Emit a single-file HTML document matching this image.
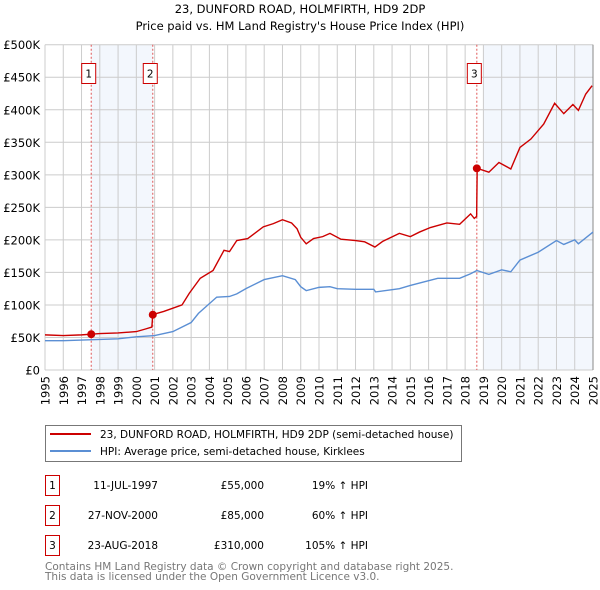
<!DOCTYPE html>
<html><head><meta charset="utf-8"><style>
body{margin:0;background:#fff;}
svg{display:block;font-family:"DejaVu Sans","Liberation Sans",sans-serif;}
</style></head><body>
<svg id="chart" width="600" height="590" viewBox="0 0 600 590">
<text x="300" y="13" text-anchor="middle" font-size="11.5" fill="#000">23, DUNFORD ROAD, HOLMFIRTH, HD9 2DP</text>
<text x="300" y="30" text-anchor="middle" font-size="11.5" fill="#000">Price paid vs. HM Land Registry's House Price Index (HPI)</text>
<g id="plot"></g>
<g>
<rect x="45.5" y="425.5" width="416" height="36" fill="#fff" stroke="#777"/>
<line x1="50" y1="434" x2="91" y2="434" stroke="#cc0000" stroke-width="2"/>
<text x="100" y="438" font-size="10.5">23, DUNFORD ROAD, HOLMFIRTH, HD9 2DP (semi-detached house)</text>
<line x1="50" y1="451" x2="91" y2="451" stroke="#5b8fd4" stroke-width="2"/>
<text x="100" y="455" font-size="10.5">HPI: Average price, semi-detached house, Kirklees</text>
</g>
<g font-size="10.5">
<rect x="45.5" y="475.5" width="14" height="20" fill="#fff" stroke="#cc0000"/>
<text x="52.5" y="489" text-anchor="middle">1</text>
<text x="158" y="489" text-anchor="end">11-JUL-1997</text>
<text x="264" y="489" text-anchor="end">£55,000</text>
<text x="368" y="489" text-anchor="end">19% ↑ HPI</text>
<rect x="45.5" y="505.5" width="14" height="20" fill="#fff" stroke="#cc0000"/>
<text x="52.5" y="519" text-anchor="middle">2</text>
<text x="158" y="519" text-anchor="end">27-NOV-2000</text>
<text x="264" y="519" text-anchor="end">£85,000</text>
<text x="368" y="519" text-anchor="end">60% ↑ HPI</text>
<rect x="45.5" y="535.5" width="14" height="20" fill="#fff" stroke="#cc0000"/>
<text x="52.5" y="549" text-anchor="middle">3</text>
<text x="158" y="549" text-anchor="end">23-AUG-2018</text>
<text x="264" y="549" text-anchor="end">£310,000</text>
<text x="368" y="549" text-anchor="end">105% ↑ HPI</text>
</g>
<text x="45" y="570" font-size="10.5" fill="#777">Contains HM Land Registry data © Crown copyright and database right 2025.</text>
<text x="45" y="580" font-size="10.5" fill="#777">This data is licensed under the Open Government Licence v3.0.</text>
</svg>
<script>
const yTicks=[0,50,100,150,200,250,300,350,400,450,500];
const yTickLabels=["£0","£50K","£100K","£150K","£200K","£250K","£300K","£350K","£400K","£450K","£500K"];
const xYears=[1995,1996,1997,1998,1999,2000,2001,2002,2003,2004,2005,2006,2007,2008,2009,2010,2011,2012,2013,2014,2015,2016,2017,2018,2019,2020,2021,2022,2023,2024,2025];
const saleLabels=["1","2","3"];
const saleDates=[1997.53,2000.9,2018.64];
const salePrices=[55,85,310];
const redT=[1995,1996,1997,1997.53,1998,1999,2000,2000.5,2000.85,2000.9,2001,2001.5,2002,2002.5,2002.9,2003.5,2004.2,2004.8,2005.1,2005.5,2006.1,2006.95,2007.5,2008,2008.5,2008.8,2009,2009.3,2009.7,2010.2,2010.6,2011.2,2012,2012.5,2013.06,2013.5,2014.4,2015,2015.5,2016.1,2017,2017.7,2018.3,2018.5,2018.63,2018.66,2019.3,2019.85,2020.5,2021,2021.6,2022.3,2022.9,2023.4,2023.9,2024.2,2024.6,2024.95];
const redV=[54,53,54,55,56,57,59,63,66,85,86,90,95,100,118,141,153,184,182,199,202,220,225,231,226,217,204,194,202,205,210,201,199,197,189,198,210,205,212,219,226,224,240,233,236,310,304,319,309,342,355,378,410,394,408,399,424,437];
const blueT=[1995,1996,1997,1998,1999,2000,2001,2002,2003,2003.4,2004.4,2005.1,2005.5,2006,2007,2008,2008.7,2009,2009.3,2010,2010.6,2011,2012,2013,2013.1,2014.4,2015,2016.5,2017.7,2018.3,2018.64,2019.3,2020,2020.5,2021,2022,2023,2023.4,2024,2024.2,2025];
const blueV=[45,45,46,47,48,51,53,59,73,87,112,113,117,125,139,145,139,128,122,127,128,125,124,124,120,125,130,141,141,148,153,147,154,151,169,181,199,193,200,194,212];
const X0=45,X1=593,Y0=370,Y1=44.7;
const xs=t=>X0+(t-1995)/(2025-1995)*(X1-X0);
const ys=v=>Y0-v/500*(Y0-Y1);
const NS="http://www.w3.org/2000/svg";
const g=document.getElementById('plot');
function mk(tag,attrs,parent){const e=document.createElementNS(NS,tag);for(const k in attrs)e.setAttribute(k,attrs[k]);(parent||g).appendChild(e);return e;}
let r=mk('rect',{x:xs(saleDates[0]),y:Y1,width:xs(saleDates[1])-xs(saleDates[0]),height:Y0-Y1,fill:'#eef3fc',opacity:0.7});


r=mk('rect',{x:xs(2019),y:Y1,width:X1-xs(2019),height:Y0-Y1,fill:'#eef3fc',opacity:0.7});


yTicks.forEach((v,i)=>{
 const l=mk('line',{x1:X0,x2:X1,y1:ys(v),y2:ys(v),stroke:'#cccccc','stroke-width':1});
 
 
 const t=mk('text',{x:40,y:ys(v)+4.5,'text-anchor':'end','font-size':11.5});
 t.textContent=yTickLabels[i];
 
 
});
xYears.forEach(yr=>{
 const l=mk('line',{x1:xs(yr),x2:xs(yr),y1:Y1,y2:Y0,stroke:'#cccccc','stroke-width':1});
 
 
 const t=mk('text',{x:0,y:0,'text-anchor':'end','font-size':11.5,transform:`translate(${xs(yr)+4.5},376) rotate(-90)`});
 t.textContent=yr;
 
 
});
const bl=mk('line',{x1:X1,x2:X1,y1:Y1,y2:Y0,stroke:'#888','stroke-width':1});


saleDates.forEach((d,i)=>{
 const l=mk('line',{x1:xs(d),x2:xs(d),y1:Y1,y2:Y0,stroke:'#e05555','stroke-width':1,'stroke-dasharray':'2,2'});
 
 
 const b=mk('rect',{x:xs(d)-9.5,y:63.5,width:14,height:20,fill:'#fff',stroke:'#cc0000'});
 
 
 const t=mk('text',{x:xs(d)-2.5,y:77.5,'text-anchor':'middle','font-size':10.5});
 t.textContent=saleLabels[i];
 
 
});
const pb=mk('polyline',{points:blueT.map((t,i)=>xs(t)+','+ys(blueV[i])).join(' '),fill:'none',stroke:'#5b8fd4','stroke-width':1.4});


const pr=mk('polyline',{points:redT.map((t,i)=>xs(t)+','+ys(redV[i])).join(' '),fill:'none',stroke:'#cc0000','stroke-width':1.4});


saleDates.forEach((d,i)=>{
 const c=mk('circle',{cx:xs(d),cy:ys(salePrices[i]),r:4,fill:'#cc0000'});
 
 
});
</script>
</body></html>
